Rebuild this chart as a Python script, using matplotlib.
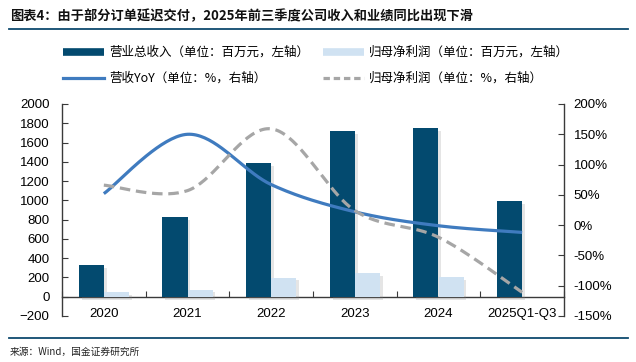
import numpy as np
import matplotlib
matplotlib.use("Agg")
import matplotlib.pyplot as plt
import matplotlib.patheffects as pe
from matplotlib.lines import Line2D
from matplotlib.ticker import FuncFormatter

plt.rcParams['font.family'] = ['Liberation Sans', 'Noto Sans CJK SC', 'DejaVu Sans']
CJK = ['Noto Sans CJK SC', 'DejaVu Sans']

# data
years = ['2020', '2021', '2022', '2023', '2024', '2025Q1-Q3']
revenue = [330, 828, 1390, 1722, 1753, 991]        # 百万元
net_profit = [49, 73, 198, 246, 202, 0]            # 百万元
revenue_yoy = [52, 150, 67, 22, -1, -12]           # %
profit_yoy = [66, 57, 159, 24, -20, -111]          # %

labels = ['营业总收入（单位：百万元，左轴）', '营收YoY（单位：%，右轴）',
          '归母净利润（单位：百万元，左轴）', '归母净利润（单位：%，右轴）']
title = '图表4：由于部分订单延迟交付，2025年前三季度公司收入和业绩同比出现下滑'
source = '来源：Wind，国金证券研究所'

DARK = '#034a6f'
LIGHT = '#d0e2f2'
BLUE = '#3f7bbf'
GREY = '#a6a6a6'


def smooth(ys, n=40):
    """bezier smoothing through every point, similar to excel's smoothed line"""
    x = np.arange(len(ys), dtype=float)
    y = np.asarray(ys, dtype=float)
    px = np.concatenate([[x[0]], x, [x[-1]]])
    py = np.concatenate([[y[0]], y, [y[-1]]])
    t = np.linspace(0, 1, n)
    out_x, out_y = [], []
    for i in range(len(x) - 1):
        p0 = np.array([px[i + 1], py[i + 1]])
        p3 = np.array([px[i + 2], py[i + 2]])
        c1 = p0 + (np.array([px[i + 2], py[i + 2]]) - np.array([px[i], py[i]])) / 6
        c2 = p3 - (np.array([px[i + 3], py[i + 3]]) - np.array([px[i + 1], py[i + 1]])) / 6
        pts = ((1 - t) ** 3)[:, None] * p0 + (3 * (1 - t) ** 2 * t)[:, None] * c1 \
            + (3 * (1 - t) * t ** 2)[:, None] * c2 + (t ** 3)[:, None] * p3
        out_x.extend(pts[:, 0])
        out_y.extend(pts[:, 1])
    return np.array(out_x), np.array(out_y)


fig = plt.figure(figsize=(6.36, 3.62), dpi=100)
ax = fig.add_axes([62 / 636, 1 - 316 / 362, 502 / 636, 212 / 362])
ax2 = ax.twinx()

x = np.arange(len(years))
w = 0.3
shadow = [pe.SimplePatchShadow(offset=(2, -2), shadow_rgbFace='#8c8c8c', alpha=0.22), pe.Normal()]
b1 = ax.bar(x - w / 2, revenue, w, color=DARK, zorder=3)
b2 = ax.bar(x + w / 2, net_profit, w, color=LIGHT, zorder=3)
for r in list(b1) + list(b2):
    r.set_path_effects(shadow)

sx, sy = smooth(revenue_yoy)
ax2.plot(sx, sy, color=BLUE, lw=2.3, solid_capstyle='butt')
sx, sy = smooth(profit_yoy)
ax2.plot(sx, sy, color=GREY, lw=2.3, dashes=(3.3, 1.8))

ax.set_xlim(-0.5, len(years) - 0.5)
ax.set_ylim(-200, 2000)
ax.set_yticks(range(-200, 2001, 200))
ax2.set_ylim(-150, 200)
ax2.set_yticks(range(-150, 201, 50))
ax2.yaxis.set_major_formatter(FuncFormatter(lambda v, p: f'{v:.0f}%'))

ax.spines['bottom'].set_position(('data', 0))
for s in ['top', 'right']:
    ax.spines[s].set_visible(False)
for s in ['top', 'left', 'bottom']:
    ax2.spines[s].set_visible(False)
for s in [ax.spines['left'], ax.spines['bottom'], ax2.spines['right']]:
    s.set_color('#3a3a3a')
    s.set_linewidth(1.0)

ax.set_xticks(np.arange(-0.5, len(years), 1))
ax.set_xticklabels([])
ax.set_xticks(x, minor=True)
ax.set_xticklabels(years, minor=True)
ax.tick_params(axis='x', which='major', direction='in', length=4, color='#3a3a3a')
ax.tick_params(axis='x', which='minor', length=0, pad=8, labelsize=9.5)
ax.tick_params(axis='y', direction='in', length=4, pad=9, labelsize=9.5, color='#3a3a3a')
ax2.tick_params(axis='y', direction='in', length=4, pad=7, labelsize=9.5, color='#3a3a3a')

handles = [Line2D([], [], color=DARK, lw=5.5, solid_capstyle='butt'),
           Line2D([], [], color=BLUE, lw=2.3),
           Line2D([], [], color=LIGHT, lw=5.5, solid_capstyle='butt'),
           Line2D([], [], color=GREY, lw=2.3, dashes=(2.0, 1.2))]
fig.legend(handles, labels, loc='upper left', bbox_to_anchor=(63 / 636, 1 - 46 / 362),
           ncol=2, frameon=False, prop={'family': CJK, 'size': 9},
           handlelength=3.3, handletextpad=0.4, columnspacing=1.1,
           labelspacing=1.05, borderpad=0, borderaxespad=0)

fig.text(10 / 636, 1 - 16 / 362, title, family=CJK, fontweight='bold', fontsize=9.5,
         va='center', ha='left', color='#111111')
fig.text(10 / 636, 1 - 352 / 362, source, family=CJK, fontsize=7, va='center',
         ha='left', color='#222222')
for yy in [29, 338]:
    fig.add_artist(Line2D([9 / 636, 628 / 636], [1 - yy / 362] * 2, color='#0e4a6e',
                          lw=1.3, transform=fig.transFigure))

fig.savefig('out.png', dpi=100)
